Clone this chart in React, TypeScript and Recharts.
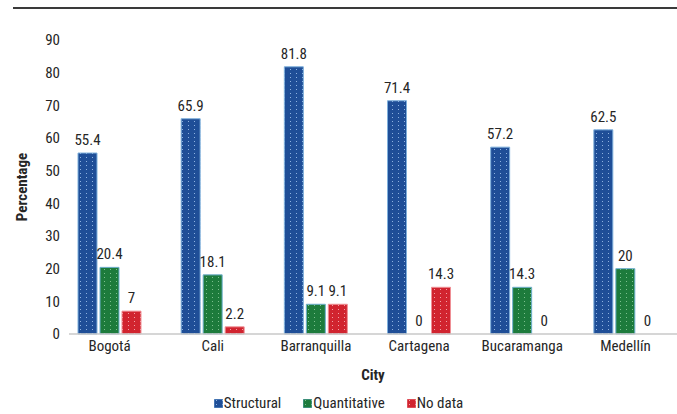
import React from 'react';
import {
  BarChart,
  Bar,
  Cell,
  XAxis,
  YAxis,
  LabelList,
  Label,
  Legend,
} from 'recharts';

// City categories and the share (%) of each approach per city
const cities = ['Bogotá', 'Cali', 'Barranquilla', 'Cartagena', 'Bucaramanga', 'Medellín'];
const structural = [55.4, 65.9, 81.8, 71.4, 57.2, 62.5];
const quantitative = [20.4, 18.1, 9.1, 0, 14.3, 20];
const noData = [7, 2.2, 9.1, 14.3, 0, 0];
const yTicks = [0, 10, 20, 30, 40, 50, 60, 70, 80, 90];

const data = cities.map((city, i) => ({
  city,
  structural: structural[i],
  quantitative: quantitative[i],
  noData: noData[i],
}));

const FONT = "Roboto, 'DejaVu Sans Condensed', sans-serif";
const STRETCH = '75%';
const TEXT = '#262626';

const series = [
  { key: 'structural', name: 'Structural', fill: '#1f4e97', dot: '#8fb3e0', stroke: '#7fb0dc', pid: 'dots-blue' },
  { key: 'quantitative', name: 'Quantitative', fill: '#1d7b3c', dot: '#7cc08e', stroke: '#6fb0cf', pid: 'dots-green' },
  { key: 'noData', name: 'No data', fill: '#d1242f', dot: '#f2a0a6', stroke: '#ef8f95', pid: 'dots-red' },
];

const textStyle = { fill: TEXT, fontSize: 15, fontFamily: FONT, fontStretch: STRETCH };

function Patterns() {
  return (
    <svg width={0} height={0} style={{ position: 'absolute' }} aria-hidden>
      <defs>
        {series.map((s) => (
          <pattern key={s.pid} id={s.pid} patternUnits="userSpaceOnUse" width={6} height={4}>
            <rect x={0} y={0} width={6} height={4} fill={s.fill} />
            <rect x={2} y={1} width={1} height={1} fill={s.dot} />
          </pattern>
        ))}
      </defs>
    </svg>
  );
}

function LegendContent() {
  return (
    <div
      style={{
        display: 'flex',
        justifyContent: 'center',
        alignItems: 'center',
        height: 17,
        fontFamily: FONT,
        fontStretch: STRETCH,
        fontSize: 15,
        lineHeight: '17px',
        color: TEXT,
      }}
    >
      {series.map((s) => (
        <div key={s.key} style={{ display: 'flex', alignItems: 'center', margin: '0 11px' }}>
          <svg width={9} height={9} style={{ marginRight: 1 }}>
            <rect x={0} y={0} width={9} height={9} fill={`url(#${s.pid})`} stroke={s.stroke} strokeWidth={0.8} />
          </svg>
          <span>{s.name}</span>
        </div>
      ))}
    </div>
  );
}

// zero-valued bars get a hairline height so their "0" label is still placed
const zeroSize = (value: number) => (value === 0 ? 0.01 : 0);

export default function App() {
  return (
    <div style={{ position: 'absolute', left: 0, top: 0, width: 677, height: 414, background: '#fff' }}>
      <Patterns />
      <div style={{ position: 'absolute', left: 13, right: 0, top: 7, height: 1.5, background: '#3a3a3a' }} />
      <BarChart
        width={677}
        height={414}
        data={data}
        margin={{ top: 40, right: 0, left: 0, bottom: 13 }}
        barCategoryGap={20}
        barGap={3}
        style={{ fontFamily: FONT }}
      >
        <XAxis
          dataKey="city"
          padding={{ left: -11, right: 0 }}
          axisLine={{ stroke: '#c8c8c8', strokeWidth: 1.5 }}
          tickLine={false}
          tickSize={4}
          tickMargin={2}
          height={50}
          tick={textStyle}
          interval={0}
        >
          <Label
            value="City"
            position="insideBottom"
            offset={4}
            style={{ ...textStyle, fontWeight: 'bold' }}
          />
        </XAxis>
        <YAxis
          domain={[0, 90]}
          ticks={yTicks}
          width={69}
          axisLine={false}
          tickLine={false}
          tickSize={0}
          tickMargin={9}
          tick={textStyle}
        >
          <Label
            value="Percentage"
            angle={-90}
            position="insideLeft"
            offset={22}
            style={{ ...textStyle, textAnchor: 'middle', fontWeight: 'bold' }}
          />
        </YAxis>
        <Legend verticalAlign="bottom" wrapperStyle={{ bottom: 2 }} content={<LegendContent />} />
        {series.map((s) => (
          <Bar
            key={s.key}
            dataKey={s.key}
            name={s.name}
            fill={`url(#${s.pid})`}
            stroke={s.stroke}
            strokeWidth={1}
            minPointSize={zeroSize}
            isAnimationActive={false}
          >
            {data.map((d, i) => (
              <Cell key={i} stroke={(d as any)[s.key] === 0 ? 'none' : s.stroke} />
            ))}
            <LabelList dataKey={s.key} position="top" offset={8} style={textStyle} />
          </Bar>
        ))}
      </BarChart>
    </div>
  );
}
